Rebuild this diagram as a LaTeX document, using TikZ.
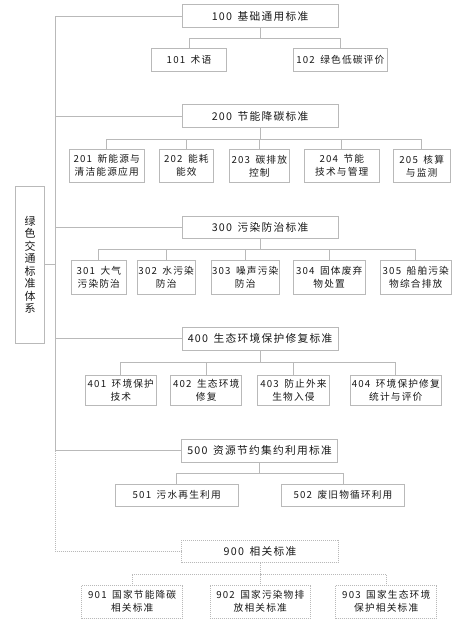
\documentclass[tikz,border=0pt]{standalone}
\usepackage{fontspec}
\newfontfamily\cjk[LetterSpace=12]{Noto Sans CJK SC}
\usetikzlibrary{calc}
\definecolor{linec}{RGB}{185,185,185}
\definecolor{txtc}{RGB}{25,25,25}
\newcommand\gp{\hspace{5.5pt}}
\begin{document}
\begin{tikzpicture}[x=1pt,y=-1pt,
  box/.style={draw=linec, line width=0.9pt, inner sep=0pt, text=txtc, align=center,
    font=\cjk\fontsize{9.7}{13}\selectfont},
  titlebox/.style={box, font=\cjk\fontsize{10.7}{13}\selectfont},
  dotbox/.style={dash pattern=on 1pt off 1pt},
  conn/.style={draw=linec, line width=0.9pt},
  dconn/.style={conn, dash pattern=on 1pt off 1pt}]
\fill[white] (0,0) rectangle (476,635);
\useasboundingbox (0,0) rectangle (476,635);
\coordinate (sp) at (55,0);
% root
\node[box, font=\cjk\fontsize{11}{12.5}\selectfont, minimum width=28.3pt, minimum height=157.3pt] (root) at (30,264.6) {绿\\色\\交\\通\\标\\准\\体\\系};
% 100
\node[titlebox, minimum width=156pt, minimum height=22.3pt] (n100) at (260,16) {100\gp 基础通用标准};
\node[box, minimum width=75.7pt, minimum height=22.7pt] (n101) at (189,59.7) {101\gp 术语};
\node[box, minimum width=94pt, minimum height=22.7pt] (n102) at (340.3,59.7) {102\gp 绿色低碳评价};
% 200
\node[titlebox, minimum width=156pt, minimum height=22.3pt] (n200) at (260,116) {200\gp 节能降碳标准};
\node[box, minimum width=74.7pt, minimum height=33pt] (n201) at (106.7,165.8) {201\gp 新能源与\\清洁能源应用};
\node[box, minimum width=54pt, minimum height=33pt] (n202) at (186.3,165.8) {202\gp 能耗\\能效};
\node[box, minimum width=60pt, minimum height=33pt] (n203) at (259.3,165.8) {203\gp 碳排放\\控制};
\node[box, minimum width=75pt, minimum height=33pt] (n204) at (341.8,165.8) {204\gp 节能\\技术与管理};
\node[box, minimum width=56.7pt, minimum height=33pt] (n205) at (421.7,165.8) {205\gp 核算\\与监测};
% 300
\node[titlebox, minimum width=156pt, minimum height=21.6pt] (n300) at (260,227.5) {300\gp 污染防治标准};
\node[box, minimum width=55.7pt, minimum height=33.6pt] (n301) at (98.8,277.5) {301\gp 大气\\污染防治};
\node[box, minimum width=57.7pt, minimum height=33.6pt] (n302) at (166.2,277.5) {302\gp 水污染\\防治};
\node[box, minimum width=68.3pt, minimum height=33.6pt] (n303) at (245.2,277.5) {303\gp 噪声污染\\防治};
\node[box, minimum width=71.7pt, minimum height=33.6pt] (n304) at (329.2,277.5) {304\gp 固体废弃\\物处置};
\node[box, minimum width=71.7pt, minimum height=33.6pt] (n305) at (415.8,277.5) {305\gp 船舶污染\\物综合排放};
% 400
\node[titlebox, minimum width=156pt, minimum height=22.3pt] (n400) at (260,338.8) {400\gp 生态环境保护修复标准};
\node[box, minimum width=71.7pt, minimum height=30.7pt] (n401) at (120.8,390.3) {401\gp 环境保护\\技术};
\node[box, minimum width=71pt, minimum height=30.7pt] (n402) at (206.2,390.3) {402\gp 生态环境\\修复};
\node[box, minimum width=71.6pt, minimum height=30.7pt] (n403) at (293.5,390.3) {403\gp 防止外来\\生物入侵};
\node[box, minimum width=91.7pt, minimum height=30.7pt] (n404) at (395.8,390.3) {404\gp 环境保护修复\\统计与评价};
% 500
\node[titlebox, minimum width=155.6pt, minimum height=23pt] (n500) at (259.5,450.8) {500\gp 资源节约集约利用标准};
\node[box, minimum width=123.3pt, minimum height=22.7pt] (n501) at (176.7,495.3) {501\gp 污水再生利用};
\node[box, minimum width=122.6pt, minimum height=22.7pt] (n502) at (343,495.3) {502\gp 废旧物循环利用};
% 900
\node[titlebox, dotbox, minimum width=156.6pt, minimum height=22.7pt] (n900) at (260,551.3) {900\gp 相关标准};
\node[box, dotbox, minimum width=101pt, minimum height=33.3pt] (n901) at (132.2,601.7) {901\gp 国家节能降碳\\相关标准};
\node[box, dotbox, minimum width=100.7pt, minimum height=33.3pt] (n902) at (260.3,601.7) {902\gp 国家污染物排\\放相关标准};
\node[box, dotbox, minimum width=101pt, minimum height=33.3pt] (n903) at (386.2,601.7) {903\gp 国家生态环境\\保护相关标准};
% spine
\draw[conn] (n100.west) -- (n100.west -| sp) -- (n500.west -| sp) -- (n500.west);
\draw[conn] (n200.west) -- (n200.west -| sp);
\draw[conn] (n300.west) -- (n300.west -| sp);
\draw[conn] (n400.west) -- (n400.west -| sp);
\draw[conn] (root.east) -- (root.east -| sp);
\draw[dconn] (n500.west -| sp) |- (n900.west);
% children
\foreach \c in {n101,n102} \draw[conn] (n100.south) -- ++(0,10.4) -| (\c.north);
\foreach \c in {n201,n202,n203,n204,n205} \draw[conn] (n200.south) -- ++(0,11.5) -| (\c.north);
\foreach \c in {n301,n302,n303,n304,n305} \draw[conn] (n300.south) -- ++(0,11) -| (\c.north);
\foreach \c in {n401,n402,n403,n404} \draw[conn] (n400.south) -- ++(0,11.8) -| (\c.north);
\foreach \c in {n501,n502} \draw[conn] (n500.south) -- ++(0,11) -| (\c.north);
\foreach \c in {n901,n902,n903} \draw[dconn] (n900.south) -- ++(0,11) -| (\c.north);
\end{tikzpicture}
\end{document}
